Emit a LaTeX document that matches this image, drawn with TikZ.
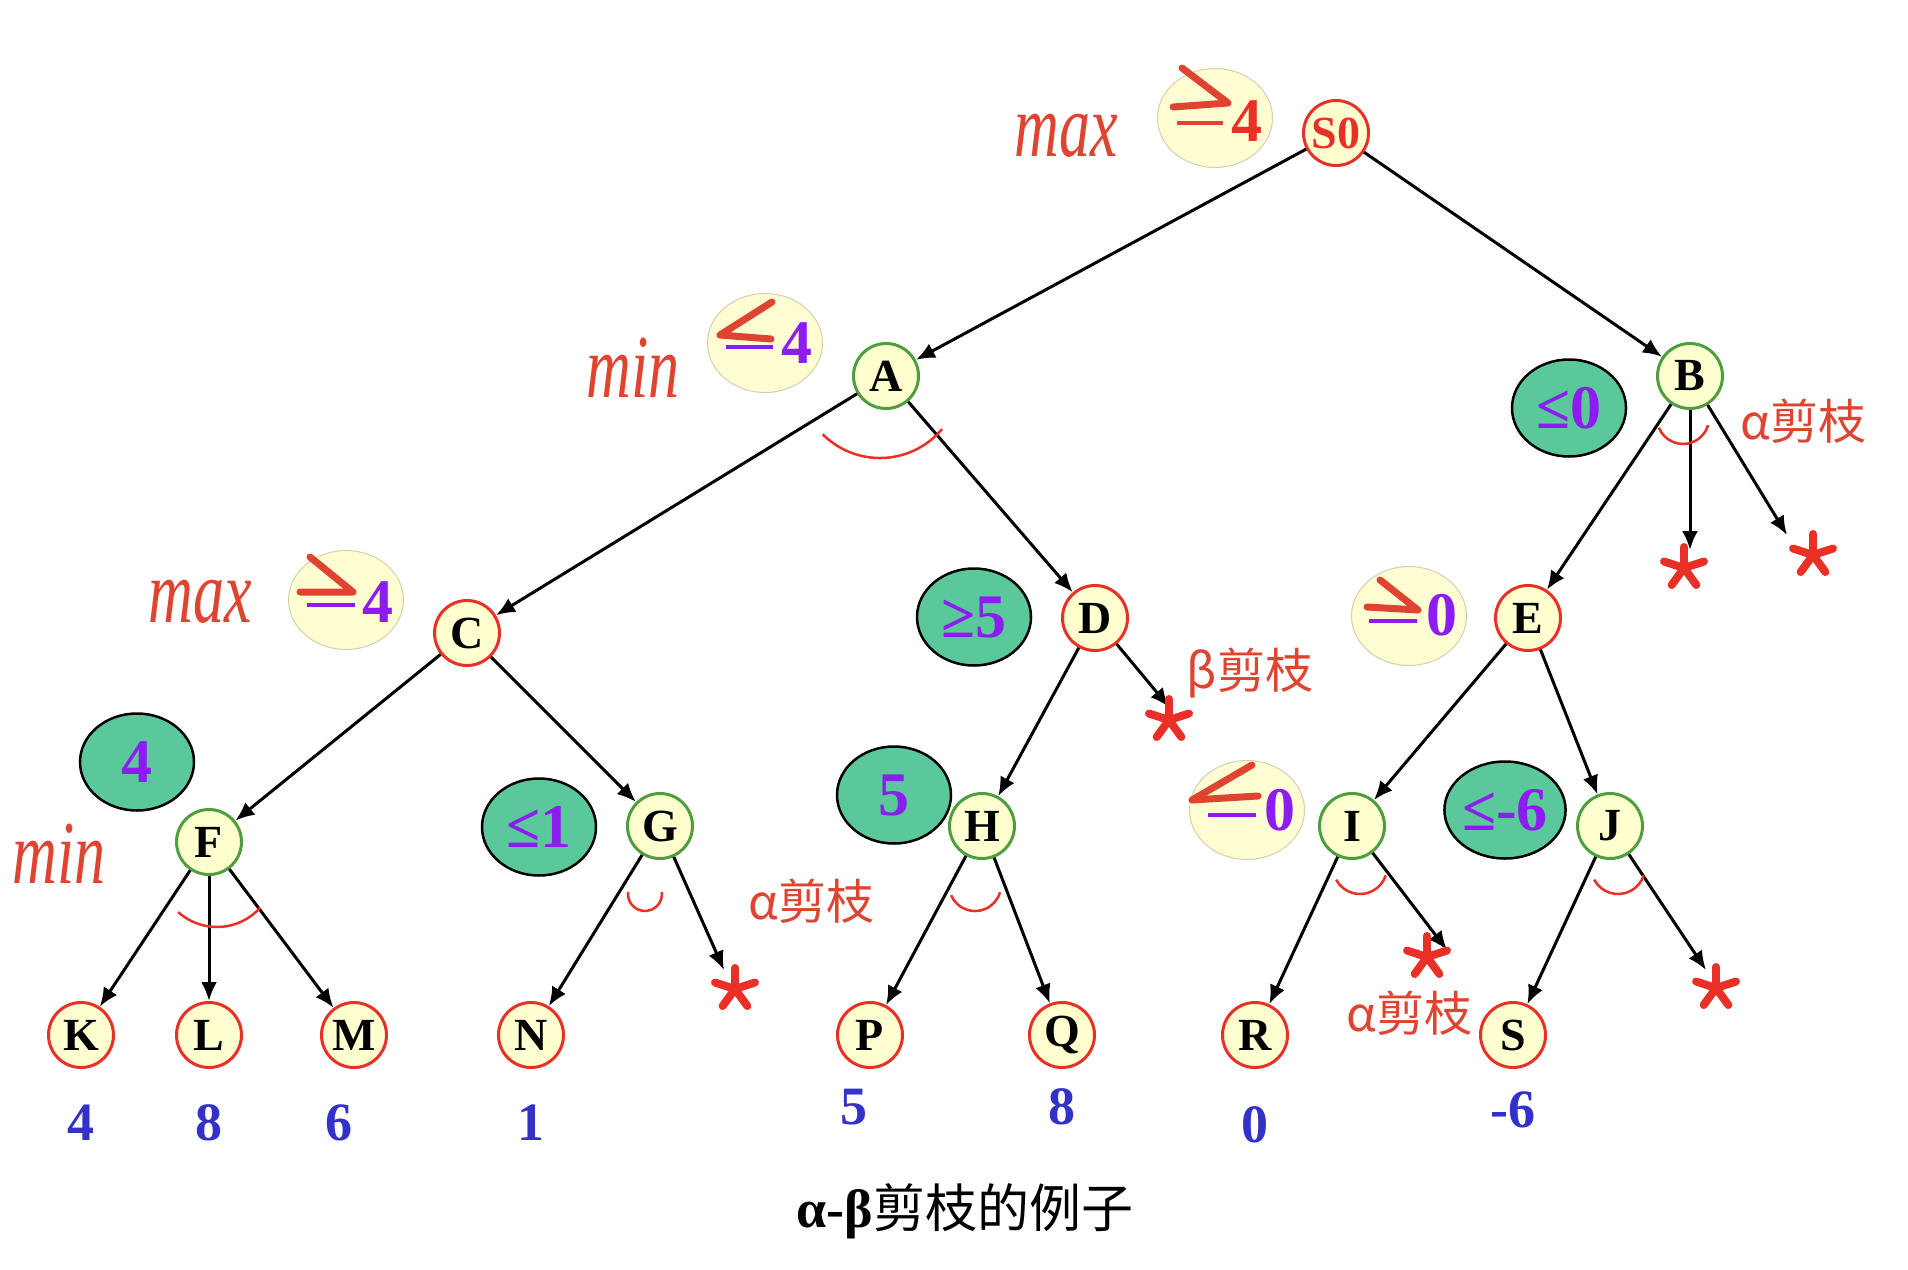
\documentclass[tikz,border=0pt]{standalone}
\usepackage{fontspec}
\setmainfont{Liberation Serif}
\newfontfamily\cjk{Noto Sans CJK SC}
\usetikzlibrary{arrows.meta,shapes.geometric}
\definecolor{nfill}{RGB}{255,255,208}
\definecolor{nred}{RGB}{232,48,38}
\definecolor{ngreen}{RGB}{78,158,62}
\definecolor{vpurple}{RGB}{140,28,240}
\definecolor{vblue}{RGB}{50,50,200}
\definecolor{hred}{RGB}{222,68,48}
\definecolor{egreen}{RGB}{90,200,155}
\definecolor{eyellow}{RGB}{255,253,210}
\definecolor{eborder}{RGB}{210,208,175}
\begin{document}
\begin{tikzpicture}[x=1pt,y=-1pt,
  mx/.style={circle, draw=nred, fill=nfill, line width=3pt, minimum size=65pt, inner sep=0pt, font=\fontsize{46}{46}\selectfont\bfseries},
  mn/.style={mx, draw=ngreen},
  gell/.style={ellipse, draw=black, fill=egreen, line width=2.5pt, minimum width=114pt, minimum height=97pt, inner sep=0pt, text=vpurple, font=\fontsize{62}{62}\selectfont\bfseries},
  yell/.style={ellipse, draw=eborder, fill=eyellow, line width=1pt, minimum width=115pt, minimum height=99pt, inner sep=0pt},
  arr/.style={draw, line width=3pt, -{Latex[length=19pt,width=16pt]}},
  val/.style={text=vblue, inner sep=0pt, font=\fontsize{54}{54}\selectfont\bfseries},
  dig/.style={text=vpurple, inner sep=0pt, font=\fontsize{62}{62}\selectfont\bfseries},
  hw/.style={text=hred, inner sep=0pt, font=\fontsize{62}{62}\selectfont\itshape, yscale=1.45},
  cutlbl/.style={text=hred, inner sep=0pt, font=\cjk\fontsize{48}{48}\selectfont},
  swing/.style={draw=nred, line width=2.5pt},
  hand/.style={draw=hred, line width=7pt, line cap=round, line join=round},
  pbar/.style={draw=vpurple, line width=3.5pt},
  astk/.pic={\foreach \a in {270,-18,198,54,126} \draw[draw=nred, line width=8pt, line cap=round] (0,0) -- (\a:21);}
]
\useasboundingbox (0,0) rectangle (1908,1269);
\fill[white] (0,0) rectangle (1908,1269);

% value ellipses
\node[yell] (vS0) at (1215,118) {};
\node[yell] (vA) at (765,343) {};
\node[yell] (vC) at (346,600) {};
\node[yell] (vE) at (1409,616) {};
\node[yell] (vI) at (1247,810) {};
\node[gell] (vB) at (1569,408) {≤0};
\node[gell] (vF) at (137,762) {4};
\node[gell] (vD) at (974,617) {≥5};
\node[gell] (vG) at (539,827) {≤1};
\node[gell] (vH) at (894,795) {5};
\node[gell] (vJ) at (1505,810) {≤-6};

% hand-drawn comparison signs in the yellow ellipses
\draw[hand] (1182,68) -- (1228,103) -- (1173,107);
\draw[draw=hred, line width=4pt] (1177,123) -- (1223,123);
\node[dig, text=nred] (dS0) at (1247,121) {4};
\draw[pbar] (726,347) -- (773,347);
\draw[hand] (772,302) -- (720,335) -- (771,339);
\node[dig] (dA) at (797,343) {4};
\draw[pbar] (307,605) -- (355,605);
\draw[hand] (310,557) -- (353,592) -- (300,592);
\node[dig] (dC) at (378,602) {4};
\draw[pbar] (1369,621) -- (1417,621);
\draw[hand] (1380,580) -- (1418,610) -- (1367,607);
\node[dig] (dE) at (1442,615) {0};
\draw[pbar] (1208,815) -- (1256,815);
\draw[hand] (1252,765) -- (1192,800) -- (1258,796);
\node[dig] (dI) at (1280,810) {0};

% tree nodes
\node[mx, text=nred] (S0) at (1336,133) {S0};
\node[mn] (A) at (886,376) {A};
\node[mn] (B) at (1690,376) {B};
\node[mx] (C) at (467,633) {C};
\node[mx] (D) at (1095,618) {D};
\node[mx] (E) at (1528,618) {E};
\node[mn] (F) at (209,842) {F};
\node[mn] (G) at (660,826) {G};
\node[mn] (H) at (982,826) {H};
\node[mn] (I) at (1352,826) {I};
\node[mn] (J) at (1610,826) {J};
\node[mx] (K) at (81,1035) {K};
\node[mx] (L) at (209,1035) {L};
\node[mx] (M) at (354,1035) {M};
\node[mx] (N) at (531,1035) {N};
\node[mx] (P) at (870,1035) {P};
\node[mx] (Q) at (1062,1035) {Q};
\node[mx] (R) at (1255,1035) {R};
\node[mx] (S) at (1513,1035) {S};

% pruned-branch targets
\coordinate (tB1) at (1690,550);
\coordinate (tB2) at (1787,535);
\coordinate (tD) at (1169,707);
\coordinate (tG) at (724,970);
\coordinate (tI) at (1447,950);
\coordinate (tJ) at (1706,970);

% edges
\draw[arr] (S0) -- (A);
\draw[arr] (S0) -- (B);
\draw[arr] (A) -- (C);
\draw[arr] (A) -- (D);
\draw[arr] (B) -- (E);
\draw[arr] (B) -- (tB1);
\draw[arr] (B) -- (tB2);
\draw[arr] (C) -- (F);
\draw[arr] (C) -- (G);
\draw[arr] (D) -- (H);
\draw[arr] (D) -- (tD);
\draw[arr] (E) -- (I);
\draw[arr] (E) -- (J);
\draw[arr] (F) -- (K);
\draw[arr] (F) -- (L);
\draw[arr] (F) -- (M);
\draw[arr] (G) -- (N);
\draw[arr] (G) -- (tG);
\draw[arr] (H) -- (P);
\draw[arr] (H) -- (Q);
\draw[arr] (I) -- (R);
\draw[arr] (I) -- (tI);
\draw[arr] (J) -- (S);
\draw[arr] (J) -- (tJ);

% asterisks
\pic at (1684,568) {astk};
\pic at (1813,555) {astk};
\pic at (1169,720) {astk};
\pic at (735,989) {astk};
\pic at (1427,957) {astk};
\pic at (1716,988) {astk};

% angle marks
\draw[swing] (822.7,434.3) arc[start angle=135, end angle=40, radius=81];
\draw[swing] (1658.9,427.7) arc[start angle=158, end angle=16, radius=26];
\draw[swing] (178.2,912.1) arc[start angle=132, end angle=42, radius=58];
\draw[swing] (628.1,891.9) arc[start angle=187, end angle=-7, radius=17];
\draw[swing] (951.1,895.2) arc[start angle=157, end angle=16, radius=26];
\draw[swing] (1336.2,879.7) arc[start angle=152, end angle=18, radius=27];
\draw[swing] (1594.2,879.7) arc[start angle=152, end angle=18, radius=27];

% leaf values
\node[val] (vK) at (81,1123) {4};
\node[val] (vL) at (209,1123) {8};
\node[val] (vM) at (339,1123) {6};
\node[val] (vN) at (531,1123) {1};
\node[val] (vP) at (854,1107) {5};
\node[val] (vQ) at (1062,1107) {8};
\node[val] (vR) at (1255,1125) {0};
\node[val] (vS) at (1513,1110) {-6};

% handwritten notes
\node[hw] (h1) at (1066,136) {max};
\node[hw] (h2) at (633,368) {min};
\node[hw] (h3) at (200,602) {max};
\node[hw] (h4) at (59,854) {min};
\node[cutlbl] (c1) at (1803,421) {α剪枝};
\node[cutlbl] (c2) at (1250,673) {β剪枝};
\node[cutlbl] (c3) at (811,901) {α剪枝};
\node[cutlbl] (c4) at (1409,1013) {α剪枝};

% caption
\node[inner sep=0pt] (cap) at (965,1211) {{\fontsize{54}{54}\selectfont\bfseries α-β}{\cjk\fontsize{52}{52}\selectfont 剪枝的例子}};
\end{tikzpicture}
\end{document}
